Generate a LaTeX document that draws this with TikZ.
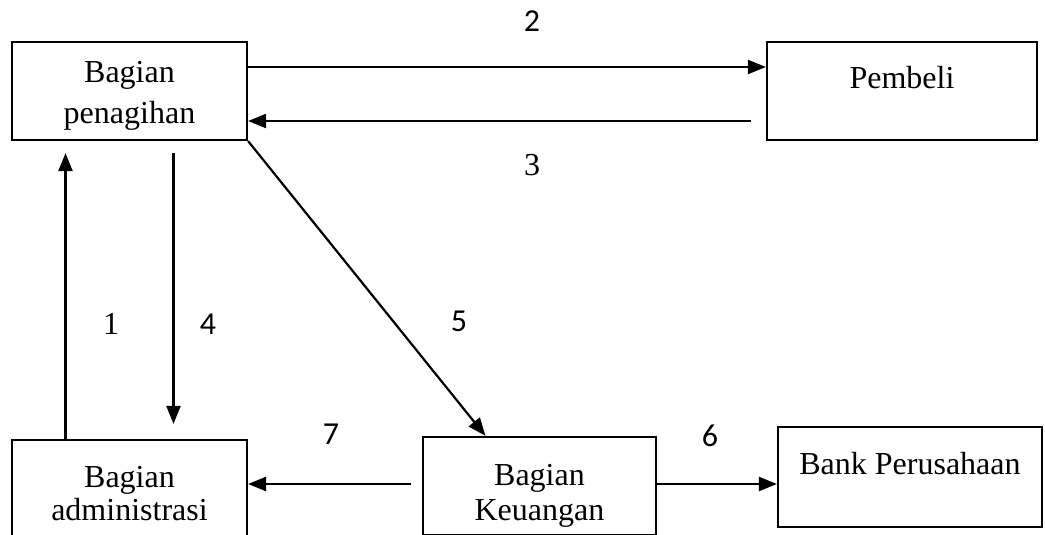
\documentclass[tikz,border=0pt]{standalone}
\usepackage{fontspec}
\setmainfont{Liberation Serif}
\newfontfamily\numfont{Carlito}
\usetikzlibrary{arrows.meta}

\newcommand{\topgap}[1]{\rule{0pt}{#1}}

\tikzset{
  box/.style={draw, line width=1.1pt, align=center, inner sep=0pt,
    font=\fontsize{16}{18}\selectfont},
  arr/.style={-{Triangle[length=9pt,width=7pt]}, line width=1.1pt},
  num/.style={font=\numfont\fontsize{16}{18}\selectfont},
  numrm/.style={font=\fontsize{16}{18}\selectfont},
}

\begin{document}
\begin{tikzpicture}[x=0.5pt, y=-0.5pt, line join=miter]
  \useasboundingbox (0,0) rectangle (1045,535);

  % Boxes
  \node[box, minimum width=117.5pt, minimum height=49pt] (pen) at (129.5,91) {\topgap{15pt}Bagian\\[2.5pt]penagihan};
  \node[box, minimum width=135pt, minimum height=49pt, text depth=14pt] (pem) at (902,91) {Pembeli};
  \node[box, minimum width=117.5pt, minimum height=49pt] (adm) at (129.5,489) {\topgap{15.5pt}Bagian\\[-1.5pt]administrasi};
  \node[box, minimum width=116.5pt, minimum height=49pt] (keu) at (539.5,486) {\topgap{20pt}Bagian\\[-0.5pt]Keuangan};
  \node[box, minimum width=132pt, minimum height=50pt, text depth=14pt] (bnk) at (910,477) {Bank Perusahaan};

  % Connectors
  \draw[arr] ([yshift=12pt]pen.east) -- ([yshift=12pt]pem.west);
  \draw[arr] ([xshift=-7.5pt,yshift=-15pt]pem.west) -- ([yshift=-15pt]pen.east);
  \draw[arr] ([xshift=-32pt]adm.north) -- ([xshift=-32pt,yshift=-6pt]pen.south);
  \draw[arr] ([xshift=22pt,yshift=-6pt]pen.south) -- ([xshift=22pt,yshift=7.5pt]adm.north);
  \draw[arr] (pen.south east) -- ([xshift=-27pt]keu.north);
  \draw[arr] ([xshift=-5.5pt,yshift=1pt]keu.west) -- ([yshift=1pt]keu.west -| adm.east);
  \draw[arr] ([yshift=1pt]keu.east) -- ([yshift=1pt]keu.east -| bnk.west);

  % Numbers
  \node[num] (l2) at (532,21) {2};
  \node[numrm] (l3) at (532,165) {3};
  \node[numrm] (l1) at (111,324) {1};
  \node[num] (l4) at (208,324) {4};
  \node[num] (l5) at (459,321) {5};
  \node[num] (l7) at (331,434) {7};
  \node[num] (l6) at (710,436) {6};
\end{tikzpicture}
\end{document}
